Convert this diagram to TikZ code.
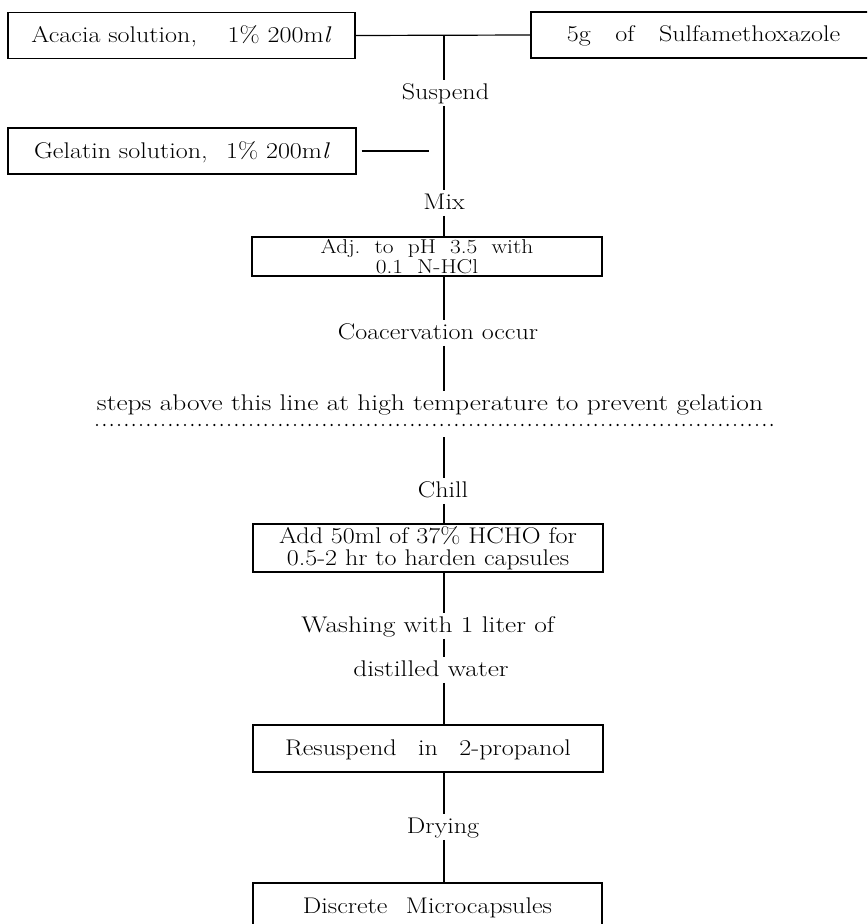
\documentclass[tikz,border=0pt]{standalone}
\usepackage{fontspec}
\usepackage{graphicx}
\newcommand{\wx}[1]{\scalebox{1.15}[1]{#1}}
\newcommand{\wxs}[1]{\scalebox{1.21}[1]{#1}}
\newcommand{\wxa}[1]{\scalebox{1.17}[1]{#1}}
\newcommand{\fsz}[2]{\fontsize{#1}{#2}\selectfont\addfontfeatures{FakeBold=1.2}}
\tikzset{
  ln/.style={line width=0.9pt, black},
  dotline/.style={line width=1.8pt, dash pattern=on 0pt off 5.5pt, line cap=round},
  boxwh/.style 2 args={minimum width=#1*0.75pt, minimum height=#2*0.75pt},
  bxbase/.style={draw, line width=0.9pt, inner sep=0pt, align=center},
  bxone/.style={bxbase, font=\fsz{17}{20}, text height=12.5pt, text depth=2pt},
  lbl/.style={inner xsep=0pt, inner ysep=2pt, text height=12pt, text depth=3pt, anchor=base, font=\fsz{17}{20}}
}
\begin{document}
\begin{tikzpicture}[x=0.75pt, y=-0.75pt]
\useasboundingbox (0,0) rectangle (867,924);
\fill[white] (0,0) rectangle (867,924);
\clip (0,0) rectangle (867,924);

% boxes
\node[bxone, boxwh={347}{46}] (acacia) at (181.5,35.5) {\wx{Acacia solution,\hspace{20pt}1\% 200m\textit{l}}};
\node[bxone, boxwh={345}{46}] (sulfa) at (703.5,35) {\wx{5g\hspace{16pt}of\hspace{16pt}Sulfamethoxazole}};
\node[bxone, boxwh={348}{46}] (gelatin) at (182,151) {\wx{Gelatin solution,\hspace{12pt}1\% 200m\textit{l}}};
\node[bxbase, boxwh={350}{39}, font=\fsz{15}{13}] (adj) at (427,256.5)
  {\wxa{Adj.\ \ to\ \ pH\ \ 3.5\ \ with}\\\wxa{0.1\ \ N-HCl}};
\node[bxbase, boxwh={350}{48}, font=\fsz{17}{16.5}] (add) at (428,548)
  {\wx{Add 50ml of 37\% HCHO for}\\\wx{0.5-2 hr to harden capsules}};
\node[bxone, boxwh={350}{47}] (resus) at (428,748.5) {\wx{Resuspend\hspace{14pt}in\hspace{14pt}2-propanol}};
\node[bxone, boxwh={349}{47}] (disc) at (427.5,906.5) {\wx{Discrete\hspace{12pt}Microcapsules}};

% labels
\node[lbl] (suspend) at (445.5,99) {\wx{Suspend}};
\node[lbl] (mix) at (444,209) {\wx{Mix}};
\node[lbl] (coac) at (438,339) {\wx{Coacervation occur}};
\node[lbl] (steps) at (430,410) {\wxs{steps above this line at high temperature to prevent gelation}};
\node[lbl] (chill) at (443,497) {\wx{Chill}};
\node[lbl] (wash) at (428,632) {\wxs{Washing with 1 liter of}};
\node[lbl] (dist) at (431,676) {\wxs{distilled water}};
\node[lbl] (dry) at (443,833) {\wx{Drying}};

% coordinates
\coordinate (sp) at (444,0);
\coordinate (gj) at (429,0);
\coordinate (dl) at (97,425);
\coordinate (dr) at (773,425);
\coordinate (dm) at (444,437);

% connectors
\draw[ln] (acacia.east) -- (sulfa.west);
\draw[ln] (acacia.east -| sp) -- (suspend.north -| sp);
\draw[ln] (suspend.south -| sp) -- (mix.north -| sp);
\draw[ln] ([xshift=3.75pt]gelatin.east) -- (gelatin.east -| gj);
\draw[ln] (mix.south -| sp) -- (adj.north -| sp);
\draw[ln] (adj.south -| sp) -- (coac.north -| sp);
\draw[ln] (coac.south -| sp) -- (steps.north -| sp);
\draw[dotline] (dl) -- (dr);
\draw[ln] (dm) -- (chill.north -| sp);
\draw[ln] (chill.south -| sp) -- (add.north -| sp);
\draw[ln] (add.south -| sp) -- (wash.north -| sp);
\draw[ln] (wash.south -| sp) -- (dist.north -| sp);
\draw[ln] (dist.south -| sp) -- (resus.north -| sp);
\draw[ln] (resus.south -| sp) -- (dry.north -| sp);
\draw[ln] (dry.south -| sp) -- (disc.north -| sp);
\end{tikzpicture}
\end{document}
